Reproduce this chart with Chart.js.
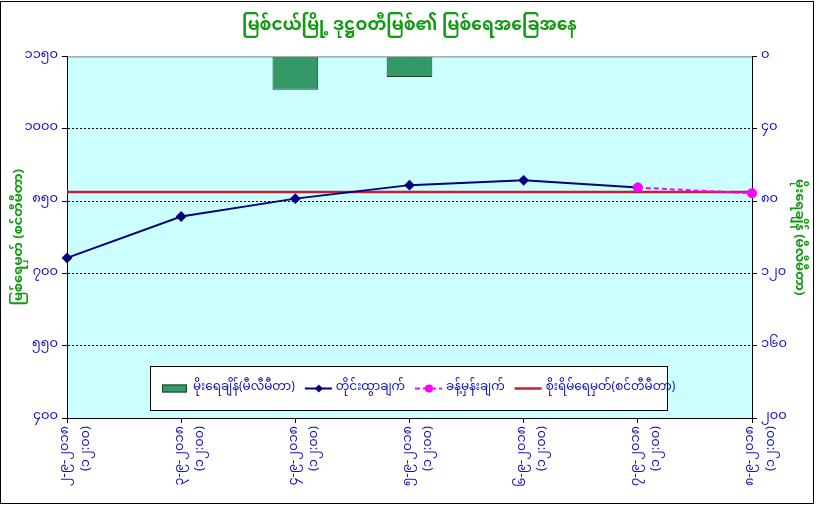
<!DOCTYPE html>
<html>
<head>
<meta charset="utf-8">
<title>မြစ်ငယ်မြို့ ဒုဋ္ဌဝတီမြစ်</title>
<script src="https://cdn.jsdelivr.net/npm/chart.js@4.4.1/dist/chart.umd.min.js"></script>
<style>
  html, body { margin: 0; padding: 0; background: #fff; }
  #wrap { position: relative; width: 819px; height: 508px; }
</style>
</head>
<body>
<div id="wrap"><canvas id="levelChart"></canvas></div>
<script>
// Chart data
const categories = [
    ['၂-၉-၂၀၁၈', '(၁၂:၀၀)'],
    ['၃-၉-၂၀၁၈', '(၁၂:၀၀)'],
    ['၄-၉-၂၀၁၈', '(၁၂:၀၀)'],
    ['၅-၉-၂၀၁၈', '(၁၂:၀၀)'],
    ['၆-၉-၂၀၁၈', '(၁၂:၀၀)'],
    ['၇-၉-၂၀၁၈', '(၁၂:၀၀)'],
    ['၈-၉-၂၀၁၈', '(၁၂:၀၀)']
];
const rainfall = [0, 0, 18.4, 11.4, 0, 0, 0];            // mm, right axis
const measured = [732, 818, 855, 883, 893, 878, null];   // cm
const forecast = [null, null, null, null, null, 878, 866];
const dangerLevel = [869, 869, 869, 869, 869, 869, 869];

const leftTicks = [400, 550, 700, 850, 1000, 1150];
const leftTickLabels = ['၄၀၀', '၅၅၀', '၇၀၀', '၈၅၀', '၁၀၀၀', '၁၁၅၀'];
const rightTicks = [0, 40, 80, 120, 160, 200];
const rightTickLabels = ['၀', '၄၀', '၈၀', '၁၂၀', '၁၆၀', '၂၀၀'];

const seriesNames = [
    'မိုးရေချိန်(မီလီမီတာ)',
    'တိုင်းထွာချက်',
    'ခန့်မှန်းချက်',
    'စိုးရိမ်ရေမှတ်(စင်တီမီတာ)'
];

const FONT = "'Noto Sans Myanmar', Padauk, 'Myanmar Text', 'Noto Sans', sans-serif";
const BLUE = '#1010c8';
const GREEN = '#139a13';

// Light cyan plot background + outer frame
const backgroundPlugin = {
    id: 'plotBackground',
    beforeDraw(chart) {
        const { ctx, chartArea: a } = chart;
        ctx.save();
        ctx.fillStyle = '#ccffff';
        ctx.fillRect(a.left, a.top, a.right - a.left, a.bottom - a.top);
        ctx.strokeStyle = '#808080';
        ctx.lineWidth = 1;
        ctx.beginPath();
        ctx.moveTo(a.left, a.top + 0.5);
        ctx.lineTo(a.right, a.top + 0.5);
        ctx.stroke();
        ctx.restore();
    },
    afterDraw(chart) {
        const ctx = chart.ctx;
        ctx.save();
        ctx.strokeStyle = '#000';
        ctx.lineWidth = 1;
        ctx.strokeRect(0.5, 1.5, 813, 502);
        ctx.restore();
    }
};

// Legend drawn inside the plot area, like the original
const insideLegend = {
    id: 'insideLegend',
    afterDraw(chart) {
        const ctx = chart.ctx;
        const box = { x: 150.5, y: 366.5, w: 517, h: 44 };
        ctx.save();
        ctx.fillStyle = '#fff';
        ctx.fillRect(box.x, box.y, box.w, box.h);
        ctx.strokeStyle = '#000';
        ctx.lineWidth = 1;
        ctx.strokeRect(box.x, box.y, box.w, box.h);

        ctx.font = '12px ' + FONT;
        ctx.textBaseline = 'middle';
        const cy = box.y + box.h / 2;
        let x = 162;
        chart.data.datasets.forEach(ds => {
            if (ds.type === 'bar') {
                ctx.fillStyle = ds.backgroundColor;
                ctx.fillRect(x, cy - 4, 25, 8);
                ctx.strokeStyle = '#1f3f2f';
                ctx.strokeRect(x + 0.5, cy - 3.5, 24, 7);
            } else {
                ctx.strokeStyle = ds.borderColor;
                ctx.lineWidth = ds.borderWidth;
                ctx.setLineDash(ds.borderDash || []);
                ctx.beginPath();
                ctx.moveTo(x, cy);
                ctx.lineTo(x + 27, cy);
                ctx.stroke();
                ctx.setLineDash([]);
                if (ds.pointRadius) {
                    ctx.fillStyle = ds.pointBackgroundColor;
                    ctx.beginPath();
                    if (ds.pointStyle === 'rectRot') {
                        ctx.moveTo(x + 14, cy - 4);
                        ctx.lineTo(x + 18, cy);
                        ctx.lineTo(x + 14, cy + 4);
                        ctx.lineTo(x + 10, cy);
                    } else {
                        ctx.arc(x + 14, cy, 4, 0, Math.PI * 2);
                    }
                    ctx.fill();
                }
                ctx.lineWidth = 1;
            }
            x += 31;
            ctx.fillStyle = BLUE;
            ctx.fillText(ds.label, x, cy);
            x += ctx.measureText(ds.label).width + 10;
        });
        ctx.restore();
    }
};

const ctx = document.getElementById('levelChart');

new Chart(ctx, {
    data: {
        labels: categories,
        datasets: [
            {
                type: 'bar',
                label: seriesNames[0],
                data: rainfall,
                yAxisID: 'y1',
                backgroundColor: '#339966',
                borderColor: '#1f3f2f',
                borderWidth: c => (c.raw ? 1 : 0),
                barPercentage: 0.4,
                categoryPercentage: 1,
                order: 4
            },
            {
                type: 'line',
                label: seriesNames[1],
                data: measured,
                yAxisID: 'y',
                borderColor: '#000080',
                backgroundColor: '#000080',
                pointBackgroundColor: '#000080',
                pointBorderColor: '#000080',
                borderWidth: 2,
                pointStyle: 'rectRot',
                pointRadius: 4,
                tension: 0,
                order: 2
            },
            {
                type: 'line',
                label: seriesNames[2],
                data: forecast,
                yAxisID: 'y',
                borderColor: '#ff00ff',
                backgroundColor: '#ff00ff',
                pointBackgroundColor: '#ff00ff',
                pointBorderColor: '#ff00ff',
                borderWidth: 2,
                borderDash: [5, 3],
                pointStyle: 'circle',
                pointRadius: 4,
                tension: 0,
                order: 1
            },
            {
                type: 'line',
                label: seriesNames[3],
                data: dangerLevel,
                yAxisID: 'y',
                borderColor: '#c81e32',
                backgroundColor: '#c81e32',
                borderWidth: 2.5,
                pointRadius: 0,
                tension: 0,
                order: 3
            }
        ]
    },
    options: {
        responsive: true,
        maintainAspectRatio: false,
        animation: false,
        layout: { padding: { left: 0, right: 0, top: 0, bottom: 0 } },
        plugins: {
            legend: { display: false },
            tooltip: { enabled: false },
            title: {
                display: true,
                text: 'မြစ်ငယ်မြို့ ဒုဋ္ဌဝတီမြစ်၏ မြစ်ရေအခြေအနေ',
                color: GREEN,
                font: { family: FONT, size: 17, weight: 'bold' },
                padding: { top: 18, bottom: 18 }
            }
        },
        scales: {
            x: {
                type: 'category',
                offset: false,
                grid: {
                    display: true,
                    offset: false,
                    drawOnChartArea: false,
                    tickLength: 5,
                    tickColor: '#000'
                },
                border: { color: '#000', width: 1 },
                ticks: {
                    color: BLUE,
                    font: { family: FONT, size: 13, lineHeight: 1.55 },
                    minRotation: 90,
                    maxRotation: 90,
                    autoSkip: false,
                    padding: 3
                },
                afterFit(scale) { scale.height = 90; }
            },
            y: {
                position: 'left',
                min: 400,
                max: 1150,
                afterBuildTicks(scale) {
                    scale.ticks = leftTicks.map(v => ({ value: v }));
                },
                grid: {
                    color: c => (c.tick && (c.tick.value === 400 || c.tick.value === 1150) ? 'rgba(0,0,0,0)' : '#000'),
                    lineWidth: 1,
                    tickLength: 5,
                    tickColor: '#000'
                },
                border: { color: '#000', width: 1, dash: [2, 2] },
                ticks: {
                    color: BLUE,
                    font: { family: FONT, size: 13 },
                    padding: 4,
                    callback: v => leftTickLabels[leftTicks.indexOf(v)]
                },
                title: {
                    display: true,
                    text: 'မြစ်ရေမှတ် (စင်တီမီတာ)',
                    color: GREEN,
                    font: { family: FONT, size: 13, weight: 'bold' },
                    padding: { top: 13, bottom: 0 }
                },
                afterFit(scale) { scale.width = 67; }
            },
            y1: {
                position: 'right',
                reverse: true,
                min: 0,
                max: 200,
                afterBuildTicks(scale) {
                    scale.ticks = rightTicks.map(v => ({ value: v }));
                },
                grid: {
                    drawOnChartArea: false,
                    tickLength: 5,
                    tickColor: '#000'
                },
                border: { color: '#000', width: 1 },
                ticks: {
                    color: BLUE,
                    font: { family: FONT, size: 13 },
                    padding: 4,
                    callback: v => rightTickLabels[rightTicks.indexOf(v)]
                },
                title: {
                    display: true,
                    text: 'မိုးရေချိန် (မီလီမီတာ)',
                    color: GREEN,
                    font: { family: FONT, size: 13, weight: 'bold' },
                    padding: { top: 14, bottom: 0 }
                },
                afterFit(scale) { scale.width = 67; }
            }
        }
    },
    plugins: [backgroundPlugin, insideLegend]
});
</script>
</body>
</html>
